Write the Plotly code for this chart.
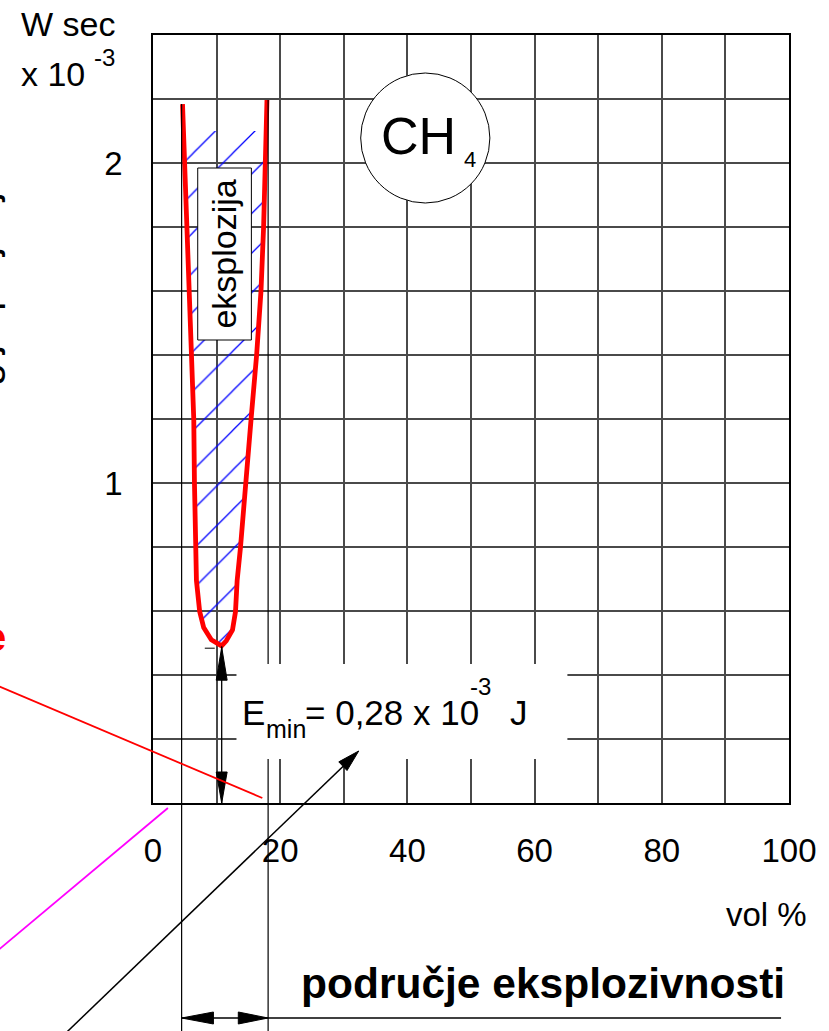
import math
import plotly.graph_objects as go

# ---------------- data ----------------
# minimum ignition energy curve of CH4 (W sec x 10^-3) vs concentration (vol %)
vol_left = [4.64, 5.0, 5.36, 5.78, 6.20, 6.41, 6.52, 6.61, 6.83, 7.34, 7.97, 9.17, 10.78]
e_left = [2.184, 1.998, 1.80, 1.60, 1.402, 1.199, 0.998, 0.798, 0.695, 0.598, 0.548, 0.510, 0.491]
vol_right = [11.52, 12.5, 12.97, 13.23, 13.75, 14.53, 15.42, 16.30, 16.98, 17.39, 17.61, 17.92]
e_right = [0.507, 0.541, 0.598, 0.695, 0.798, 0.998, 1.199, 1.402, 1.60, 1.80, 1.998, 2.197]

x_tick_vals = [0, 20, 40, 60, 80, 100]
x_tick_text = ["0", "20", "40", "60", "80", "100"]
y_tick_vals = [1, 2]
y_tick_text = ["1", "2"]

hatch_top = 2.10          # upper edge of the hatched explosion zone
range_lo, range_hi = 4.5, 18.1   # explosion range limits (vol %)
e_min_vol, e_min_val = 10.8, 0.49  # minimum of the curve

# ---------------- geometry ----------------
W, H = 829, 1031
PL, PR, PT, PB = 153, 793, 35, 803
X_MAX, Y_MAX = 100.0, 2.4
FONT = "Liberation Sans, Arial, sans-serif"


def d2px(x, y):
    return PL + x / X_MAX * (PR - PL), PB - y / Y_MAX * (PB - PT)


def pp(px, py):
    """pixel -> paper"""
    return (px - PL) / (PR - PL), (PB - py) / (PB - PT)


def line(p0, p1, color="black", width=1.2):
    a = pp(*p0)
    b = pp(*p1)
    return dict(type="line", xref="paper", yref="paper", x0=a[0], y0=a[1], x1=b[0], y1=b[1],
                line=dict(color=color, width=width), layer="above")


def rect(p0, p1, fill="white", lc="black", lw=1.0):
    a = pp(*p0)
    b = pp(*p1)
    return dict(type="rect", xref="paper", yref="paper", x0=a[0], y0=a[1], x1=b[0], y1=b[1],
                fillcolor=fill, line=dict(color=lc, width=lw), layer="above")


def head(tip, frm, length, half):
    dx, dy = tip[0] - frm[0], tip[1] - frm[1]
    n = math.hypot(dx, dy)
    ux, uy = dx / n, dy / n
    bx, by = tip[0] - ux * length, tip[1] - uy * length
    nx, ny = -uy, ux
    pts = [tip, (bx + nx * half, by + ny * half), (bx - nx * half, by - ny * half)]
    c = [pp(*p) for p in pts]
    path = "M {:.5f} {:.5f} L {:.5f} {:.5f} L {:.5f} {:.5f} Z".format(c[0][0], c[0][1], c[1][0], c[1][1], c[2][0], c[2][1])
    return dict(type="path", path=path, xref="paper", yref="paper", fillcolor="black",
                line=dict(color="black", width=1), layer="above")


def ann(text, px, py, size, xanchor="center", yanchor="middle", color="black", angle=0):
    x, y = pp(px, py)
    return dict(text=text, x=x, y=y, xref="paper", yref="paper", showarrow=False,
                xanchor=xanchor, yanchor=yanchor, textangle=angle,
                font=dict(family=FONT, size=size, color=color))


fig = go.Figure()

# hatched explosion zone
hatch_x = [vol_left[0] + 0.15] + vol_left[1:] + vol_right[:-1] + [vol_right[-1] - 0.15]
hatch_y = [hatch_top] + e_left[1:] + e_right[:-1] + [hatch_top]
fig.add_trace(go.Scatter(
    x=hatch_x, y=hatch_y, mode="lines", fill="toself",
    fillcolor="rgba(0,0,0,0)", line=dict(width=0, color="rgba(0,0,0,0)"),
    fillpattern=dict(shape="/", fgcolor="#0000ff", fgopacity=1, bgcolor="rgba(0,0,0,0)",
                     size=28, solidity=0.045),
    hoverinfo="skip", showlegend=False))

# the ignition-energy curve
fig.add_trace(go.Scatter(
    x=vol_left + vol_right, y=e_left + e_right, mode="lines",
    line=dict(color="#ff0000", width=4.8), showlegend=False))

# ---------------- decorations ----------------
lo_px = d2px(range_lo, 0)[0]
hi_px = d2px(range_hi, 0)[0]
mn_px, mn_py = d2px(e_min_vol, e_min_val)
top_lo = d2px(vol_left[0], e_left[0])[1]
top_hi = d2px(vol_right[-1], e_right[-1])[1]

shapes = []
# limit lines of the explosive range
shapes.append(line((lo_px, top_lo), (lo_px, H + 5)))
shapes.append(line((hi_px, top_hi), (hi_px, H + 5)))
# white label box for E_min (covers grid)
shapes.append(rect((237, 664), (570, 759), lc="white", lw=0))
# CH4 circle
shapes.append(dict(type="circle", xref="paper", yref="paper",
                   x0=pp(362, 0)[0], x1=pp(492, 0)[0], y0=pp(0, 203)[1], y1=pp(0, 73)[1],
                   fillcolor="white", line=dict(color="black", width=1), layer="above"))
# "eksplozija" label box
shapes.append(rect((198, 168), (252, 340)))
# vertical dimension arrow for E_min
shapes.append(line((mn_px, mn_py), (mn_px, PB), width=1.3))
shapes.append(head((mn_px, mn_py + 1), (mn_px, PB), 33, 5.5))
shapes.append(head((mn_px, PB), (mn_px, mn_py), 31, 5.5))
shapes.append(line((mn_px - 17, mn_py + 2), (mn_px - 7, mn_py + 2), width=1))
# horizontal range arrow at the bottom
yb = 1018
shapes.append(line((lo_px, yb), (785, yb), width=1.3))
shapes.append(head((lo_px, yb), (hi_px, yb), 32, 6))
shapes.append(head((hi_px, yb), (lo_px, yb), 30, 6))
# red and magenta guide lines
shapes.append(line((-5, 685), (263, 798), color="#ff0000", width=1.8))
shapes.append(line((-5, 952), (168, 808), color="#ff00ff", width=1.8))
# diagonal arrow towards the E_min label
shapes.append(line((58, 1040), (352, 759), width=1.5))
shapes.append(head((360, 751), (58, 1040), 22, 6))

annotations = [
    ann("W sec", 18, 24, 34, xanchor="left"),
    ann("x 10", 18, 73.5, 34, xanchor="left"),
    ann("-3", 92, 57, 24, xanchor="left"),
    ann("vol %", 813, 914, 33, xanchor="right"),
    ann("<b>područje eksplozivnosti</b>", 300, 983, 42.5, xanchor="left"),
    ann("E", 241, 712.5, 35, xanchor="left"),
    ann("min", 265, 728.5, 25, xanchor="left"),
    ann("= 0,28 x 10", 304, 712.5, 35, xanchor="left"),
    ann("-3", 470, 686, 24, xanchor="left"),
    ann("J", 510, 712.5, 35, xanchor="left"),
    ann("CH", 420, 136, 52),
    ann("4", 471.5, 160, 22),
    ann("eksplozija", 224, 254, 34, angle=-90),
    ann("energija paljenja", 7, 318, 41, xanchor="right", angle=-90),
    ann("<b>e</b>", 7, 637, 40, xanchor="right", color="#ff0000"),
]

grid_c = "#4a4a4a"
fig.update_layout(
    width=W, height=H,
    margin=dict(l=PL, r=W - PR, t=PT, b=H - PB, pad=0),
    paper_bgcolor="white", plot_bgcolor="white",
    showlegend=False,
    shapes=shapes, annotations=annotations,
    font=dict(family=FONT, size=33, color="black"),
    xaxis=dict(range=[0, X_MAX], tickvals=x_tick_vals, ticktext=x_tick_text,
               showgrid=True, gridcolor=grid_c, gridwidth=1.5,
               minor=dict(dtick=10, showgrid=True, gridcolor=grid_c, gridwidth=1.5),
               showline=True, linecolor="black", linewidth=1.5, mirror=True,
               ticks="", zeroline=False, ticklabelstandoff=18,
               tickfont=dict(family=FONT, size=33, color="black")),
    yaxis=dict(range=[0, Y_MAX], tickvals=y_tick_vals, ticktext=y_tick_text,
               showgrid=True, gridcolor=grid_c, gridwidth=1.5,
               minor=dict(dtick=0.2, showgrid=True, gridcolor=grid_c, gridwidth=1.5),
               showline=True, linecolor="black", linewidth=1.5, mirror=True,
               ticks="", zeroline=False, ticklabelstandoff=22,
               tickfont=dict(family=FONT, size=33, color="black")),
)

fig.write_html("out.html", config={"displayModeBar": False},
               post_script="document.body.style.margin='0';document.body.style.overflow='hidden';")
